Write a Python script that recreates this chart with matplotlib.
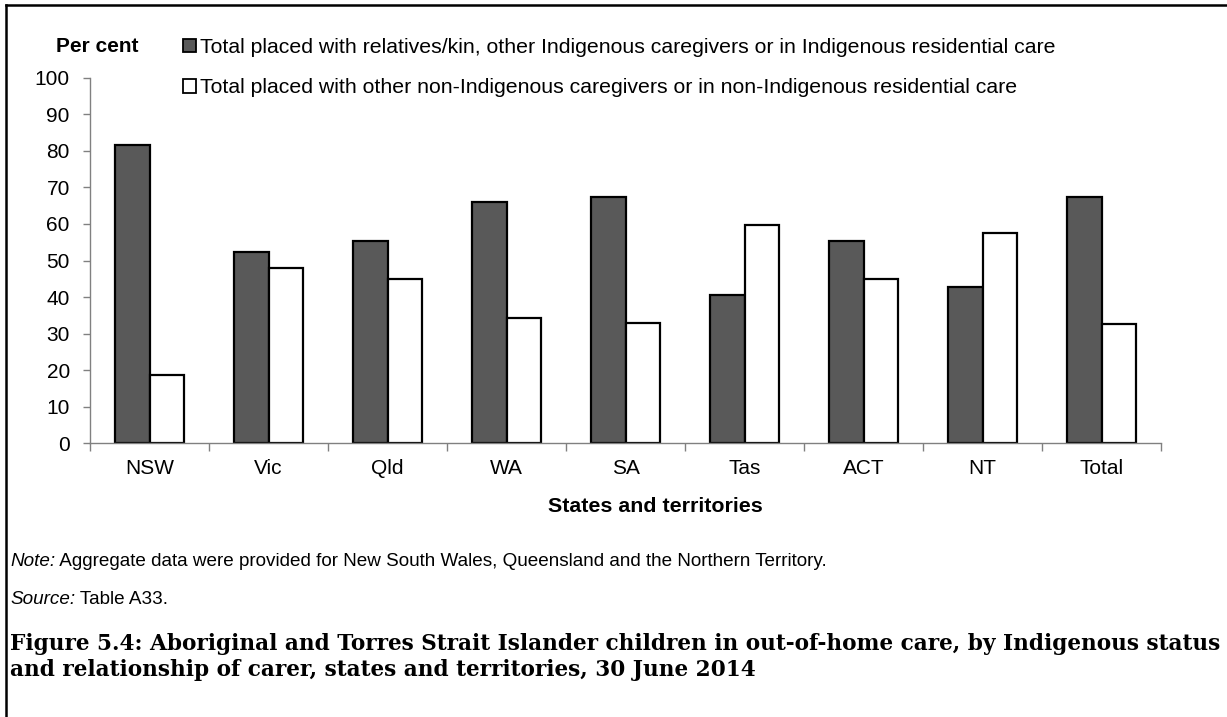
import matplotlib
matplotlib.use("Agg")
import matplotlib.pyplot as plt
import numpy as np
from matplotlib.lines import Line2D
from matplotlib.patches import Patch

categories = ["NSW", "Vic", "Qld", "WA", "SA", "Tas", "ACT", "NT", "Total"]
indigenous_carers = [81.6, 52.4, 55.2, 65.9, 67.4, 40.6, 55.3, 42.7, 67.5]
non_indigenous_carers = [18.7, 47.9, 44.9, 34.2, 32.8, 59.6, 44.9, 57.5, 32.5]
y_ticks = [0, 10, 20, 30, 40, 50, 60, 70, 80, 90, 100]

label_a = "Total placed with relatives/kin, other Indigenous caregivers or in Indigenous residential care"
label_b = "Total placed with other non-Indigenous caregivers or in non-Indigenous residential care"

plt.rcParams['font.family'] = ['Liberation Sans', 'DejaVu Sans']

W, H = 1227, 717
fig = plt.figure(figsize=(W / 100, H / 100), dpi=100)

ax = fig.add_axes([90 / W, 1 - 443.3 / H, (1161 - 90) / W, (443.3 - 77.7) / H])

x = np.arange(len(categories))
bw = 0.29
ax.bar(x - bw / 2, indigenous_carers, width=bw, color="#595959", edgecolor="black", linewidth=1.6, label=label_a)
ax.bar(x + bw / 2, non_indigenous_carers, width=bw, color="white", edgecolor="black", linewidth=1.6, label=label_b)

ax.set_xlim(-0.5, len(categories) - 0.5)
ax.set_ylim(0, 100)
ax.set_yticks(y_ticks)
ax.set_yticklabels([str(v) for v in y_ticks], fontsize=15)
ax.set_xticks(x)
ax.set_xticklabels(categories, fontsize=15)
ax.set_xticks(np.arange(len(categories) + 1) - 0.5, minor=True)
ax.tick_params(axis='x', which='major', length=0, pad=11)
ax.tick_params(axis='x', which='minor', length=6, width=1, color="#808080", direction='out')
ax.tick_params(axis='y', which='major', length=5, width=1, color="#808080", pad=9.5)

for s in ["top", "right"]:
    ax.spines[s].set_visible(False)
for s in ["left", "bottom"]:
    ax.spines[s].set_color("#808080")
    ax.spines[s].set_linewidth(1.0)

fig.text(655 / W, 1 - 507 / H, "States and territories", fontsize=15.4, fontweight="bold", ha="center", va="center")
fig.text(97 / W, 1 - 47 / H, "Per cent", fontsize=15, fontweight="bold", ha="center", va="center")

handles = [Patch(facecolor="#595959", edgecolor="black", linewidth=1.3),
           Patch(facecolor="white", edgecolor="black", linewidth=1.3)]
fig.legend(handles, [label_a, label_b], loc="upper left", bbox_to_anchor=(183 / W, 1 - 38 / H),
           frameon=False, fontsize=15.3, handlelength=0.6, handleheight=0.6,
           handletextpad=0.2, labelspacing=1.0, borderaxespad=0, borderpad=0)

note_y = 1 - 562 / H
src_y = 1 - 600 / H
t1 = fig.text(10 / W, note_y, "Note:", fontsize=13.6, style="italic", ha="left", va="center")
ax.annotate(" Aggregate data were provided for New South Wales, Queensland and the Northern Territory.",
            xy=(1, 0.5), xycoords=t1, xytext=(0, 0), textcoords="offset points",
            fontsize=13.6, ha="left", va="center", annotation_clip=False)
t2 = fig.text(10 / W, src_y, "Source:", fontsize=13.6, style="italic", ha="left", va="center")
ax.annotate(" Table A33.", xy=(1, 0.5), xycoords=t2, xytext=(0, 0), textcoords="offset points",
            fontsize=13.6, ha="left", va="center", annotation_clip=False)

cap_font = ['DejaVu Serif']
fig.text(10 / W, 1 - 644 / H, "Figure 5.4: Aboriginal and Torres Strait Islander children in out-of-home care, by Indigenous status",
         fontsize=15.55, fontweight="bold", family=cap_font, ha="left", va="center")
fig.text(10 / W, 1 - 670 / H, "and relationship of carer, states and territories, 30 June 2014",
         fontsize=15.55, fontweight="bold", family=cap_font, ha="left", va="center")

fig.add_artist(Line2D([6 / W, 6 / W], [0, 1 - 5 / H], transform=fig.transFigure, color="black", linewidth=1.8))
fig.add_artist(Line2D([6 / W, 1], [1 - 5 / H, 1 - 5 / H], transform=fig.transFigure, color="black", linewidth=1.8))

fig.savefig("out.png", dpi=100)
